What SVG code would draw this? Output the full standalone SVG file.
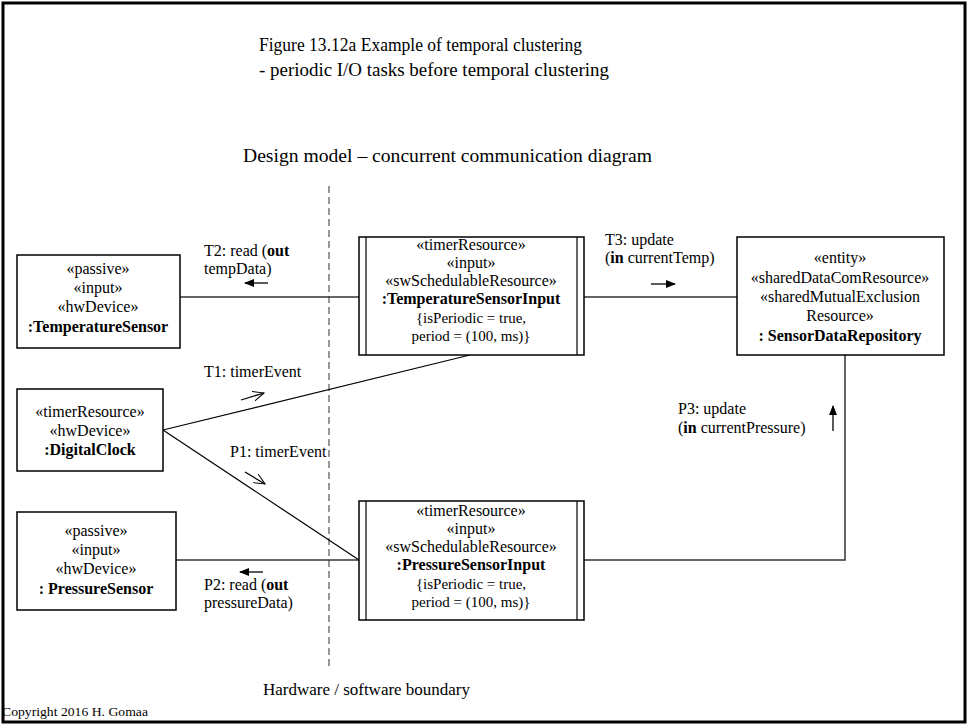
<svg xmlns="http://www.w3.org/2000/svg" width="968" height="725" viewBox="0 0 968 725">
  <defs>
    <marker id="solidHead" viewBox="0 0 10 10" refX="9" refY="5" markerWidth="10" markerHeight="10" markerUnits="userSpaceOnUse" orient="auto">
      <path d="M0,1 L10,5 L0,9 Z" fill="#000"/>
    </marker>
    <marker id="openHead" viewBox="0 0 12 12" refX="11" refY="6" markerWidth="12" markerHeight="12" markerUnits="userSpaceOnUse" orient="auto">
      <path d="M0,1 L11,6 L0,11" fill="none" stroke="#000" stroke-width="1"/>
    </marker>
  </defs>
  <style>
    text { font-family: "Liberation Serif", "Times New Roman", serif; fill: #000; }
    .title { font-size: 19px; }
    .node { font-size: 16px; text-anchor: middle; }
    .b { font-weight: bold; }
    .lbl { font-size: 16px; }
    .box { fill: #fff; stroke: #000; stroke-width: 1.5; }
    .bar { stroke: #000; stroke-width: 1.2; }
    .conn { fill: none; stroke: #333; stroke-width: 1.5; }
    .thin { fill: none; stroke: #000; stroke-width: 1.2; }
    .msg { stroke: #000; stroke-width: 1.3; }
    .small { font-size: 12px; }
  </style>

  <!-- page frame -->
  <rect x="0" y="0" width="968" height="725" fill="#fff"/>
  <rect x="3" y="3" width="962" height="719" fill="none" stroke="#000" stroke-width="3"/>

  <!-- headings -->
  <text class="title" x="259" y="51" textLength="323" lengthAdjust="spacingAndGlyphs">Figure 13.12a Example of temporal clustering</text>
  <text class="title" x="259" y="76" textLength="350" lengthAdjust="spacingAndGlyphs">- periodic I/O tasks before temporal clustering</text>
  <text class="title" x="243" y="162" textLength="409" lengthAdjust="spacingAndGlyphs">Design model – concurrent communication diagram</text>

  <!-- hardware / software boundary -->
  <line x1="329" y1="186" x2="329" y2="666" stroke="#777" stroke-width="1.5" stroke-dasharray="7,4"/>
  <text class="lbl" x="263" y="695" textLength="207" lengthAdjust="spacingAndGlyphs">Hardware / software boundary</text>
  <text class="small" x="2" y="716" textLength="146" lengthAdjust="spacingAndGlyphs">Copyright 2016 H. Gomaa</text>

  <!-- connectors -->
  <g id="connectors">
    <line class="conn" x1="180" y1="297" x2="359" y2="297"/>
    <line class="conn" x1="584" y1="297" x2="737" y2="297"/>
    <polyline class="conn" points="845,355 845,560 584,560"/>
    <line class="conn" x1="176" y1="560" x2="359" y2="560"/>
    <line class="thin" x1="163" y1="430" x2="470" y2="355"/>
    <line class="thin" x1="163" y1="430" x2="359" y2="560"/>

    <!-- message arrows -->
    <line class="msg" x1="268" y1="283" x2="245" y2="283" marker-end="url(#solidHead)"/>
    <line class="msg" x1="651" y1="284" x2="675" y2="284" marker-end="url(#solidHead)"/>
    <line class="msg" x1="833" y1="431" x2="833" y2="406" marker-end="url(#solidHead)"/>
    <line class="msg" x1="263" y1="572" x2="240" y2="572" marker-end="url(#solidHead)"/>
    <line class="msg" x1="241" y1="400" x2="264" y2="393" marker-end="url(#openHead)"/>
    <line class="msg" x1="245" y1="472" x2="265" y2="484" marker-end="url(#openHead)"/>

    <!-- message labels -->
    <text class="lbl" x="204" y="256">T2: read (<tspan class="b">out</tspan></text>
    <text class="lbl" x="204" y="274">tempData)</text>
    <text class="lbl" x="605" y="245">T3: update</text>
    <text class="lbl" x="605" y="263">(<tspan class="b">in</tspan> currentTemp)</text>
    <text class="lbl" x="204" y="377">T1: timerEvent</text>
    <text class="lbl" x="230" y="457">P1: timerEvent</text>
    <text class="lbl" x="204" y="590">P2: read (<tspan class="b">out</tspan></text>
    <text class="lbl" x="204" y="608">pressureData)</text>
    <text class="lbl" x="678" y="414">P3: update</text>
    <text class="lbl" x="678" y="433">(<tspan class="b">in</tspan> currentPressure)</text>
  </g>

  <!-- nodes -->
  <g id="TemperatureSensor">
    <rect class="box" x="17" y="255" width="163" height="93"/>
    <text class="node" x="98" y="274">«passive»</text>
    <text class="node" x="98" y="293">«input»</text>
    <text class="node" x="98" y="312">«hwDevice»</text>
    <text class="node b" x="98" y="332">:TemperatureSensor</text>
  </g>

  <g id="TemperatureSensorInput">
    <rect class="box" x="359" y="237" width="225" height="118"/>
    <line class="bar" x1="366" y1="237" x2="366" y2="355"/>
    <line class="bar" x1="577" y1="237" x2="577" y2="355"/>
    <text class="node" x="471" y="250">«timerResource»</text>
    <text class="node" x="471" y="268">«input»</text>
    <text class="node" x="471" y="286">«swSchedulableResource»</text>
    <text class="node b" x="471" y="304">:TemperatureSensorInput</text>
    <text class="node" x="471" y="323" style="font-size:15px">{isPeriodic = true,</text>
    <text class="node" x="471" y="341" style="font-size:15px">period = (100, ms)}</text>
  </g>

  <g id="SensorDataRepository">
    <rect class="box" x="737" y="237" width="207" height="118"/>
    <text class="node" x="840" y="263">«entity»</text>
    <text class="node" x="840" y="283">«sharedDataComResource»</text>
    <text class="node" x="840" y="302">«sharedMutualExclusion</text>
    <text class="node" x="840" y="321">Resource»</text>
    <text class="node b" x="840" y="341">: SensorDataRepository</text>
  </g>

  <g id="DigitalClock">
    <rect class="box" x="17" y="389" width="146" height="82"/>
    <text class="node" x="90" y="417">«timerResource»</text>
    <text class="node" x="90" y="436">«hwDevice»</text>
    <text class="node b" x="90" y="455">:DigitalClock</text>
  </g>

  <g id="PressureSensorInput">
    <rect class="box" x="359" y="501" width="225" height="119"/>
    <line class="bar" x1="366" y1="501" x2="366" y2="620"/>
    <line class="bar" x1="577" y1="501" x2="577" y2="620"/>
    <text class="node" x="471" y="516">«timerResource»</text>
    <text class="node" x="471" y="534">«input»</text>
    <text class="node" x="471" y="552">«swSchedulableResource»</text>
    <text class="node b" x="471" y="570">:PressureSensorInput</text>
    <text class="node" x="471" y="589" style="font-size:15px">{isPeriodic = true,</text>
    <text class="node" x="471" y="607" style="font-size:15px">period = (100, ms)}</text>
  </g>

  <g id="PressureSensor">
    <rect class="box" x="17" y="512" width="159" height="98"/>
    <text class="node" x="96" y="536">«passive»</text>
    <text class="node" x="96" y="555">«input»</text>
    <text class="node" x="96" y="574">«hwDevice»</text>
    <text class="node b" x="96" y="594">: PressureSensor</text>
  </g>
</svg>
